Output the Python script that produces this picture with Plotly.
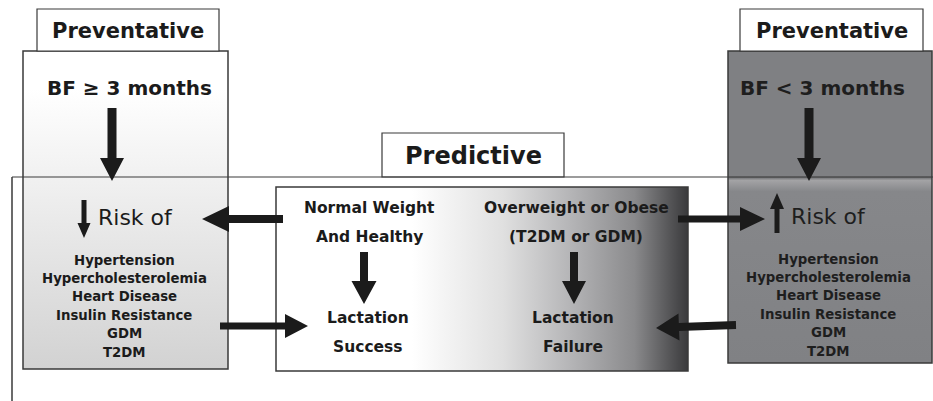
import math
import plotly.graph_objects as go

# ---------------- content ----------------
header_labels = ["Preventative", "Predictive", "Preventative"]
condition_labels = ["BF ≥ 3 months", "BF < 3 months"]
risk_label = "Risk of"
risk_items = ["Hypertension", "Hypercholesterolemia", "Heart Disease",
              "Insulin Resistance", "GDM", "T2DM"]
predictive_groups = [["Normal Weight", "And Healthy"],
                     ["Overweight or Obese", "(T2DM or GDM)"]]
outcome_groups = [["Lactation", "Success"], ["Lactation", "Failure"]]

# ---------------- layout geometry (pixels) ----------------
W, H = 933, 401
FONT = "DejaVu Sans, Liberation Sans, Arial"
INK = "#1b1b1b"
EDGE = "#3a3a3a"

LEFT_BOX = (23, 51, 228, 369)
RIGHT_BOX = (728, 51, 932, 363)
CENTER_BOX = (276, 187, 688, 371)
LABEL_BOXES = [(37, 9, 219, 51), (382, 133, 564, 177), (740, 9, 923, 51)]
LABEL_SIZES = [21, 24, 21]

fig = go.Figure()


def rect_xy(b):
    x0, y0, x1, y1 = b
    return [x0, x1, x1, x0, x0], [y0, y0, y1, y1, y0]


def grad_box(b, gtype, cscale, start, stop):
    xs, ys = rect_xy(b)
    fig.add_trace(go.Scatter(
        x=xs, y=ys, mode="lines", fill="toself",
        line=dict(width=0), hoverinfo="skip", showlegend=False,
        fillgradient=dict(type=gtype, colorscale=cscale, start=start, stop=stop),
    ))


# left box: white -> light grey (vertical)
grad_box(LEFT_BOX, "vertical",
         [[0, "#ffffff"], [0.12, "#ffffff"], [0.45, "#eeeeee"], [1, "#d2d2d2"]],
         LEFT_BOX[1], LEFT_BOX[3])
# right box: mid grey with a highlight band under the divider line
grad_box(RIGHT_BOX, "vertical",
         [[0, "#7f8083"], [0.40, "#7f8083"], [0.405, "#6f7073"], [0.415, "#a3a3a5"],
          [0.45, "#86878a"], [1, "#808184"]],
         RIGHT_BOX[1], RIGHT_BOX[3])
# centre box: white -> dark grey (horizontal)
grad_box(CENTER_BOX, "horizontal",
         [[0, "#ffffff"], [0.33, "#ffffff"], [0.55, "#e0e0e0"], [0.71, "#b6b6b8"],
          [0.87, "#8a8a8c"], [1, "#3a3a3c"]],
         CENTER_BOX[0], CENTER_BOX[2])

shapes = []
# box borders
for b in [LEFT_BOX, RIGHT_BOX, CENTER_BOX]:
    shapes.append(dict(type="rect", x0=b[0], y0=b[1], x1=b[2], y1=b[3],
                       line=dict(color=EDGE, width=1.5), fillcolor="rgba(0,0,0,0)"))
for b in LABEL_BOXES:
    shapes.append(dict(type="rect", x0=b[0], y0=b[1], x1=b[2], y1=b[3],
                       line=dict(color=EDGE, width=1.2), fillcolor="white"))
# divider line and left bracket
shapes.append(dict(type="line", x0=12, y0=177, x1=W, y1=177,
                   line=dict(color=EDGE, width=1.2)))
shapes.append(dict(type="line", x0=12, y0=177, x1=12, y1=H,
                   line=dict(color=EDGE, width=1.5)))


def arrow(x0, y0, x1, y1, sw, hw, hl):
    dx, dy = x1 - x0, y1 - y0
    L = math.hypot(dx, dy)
    ux, uy = dx / L, dy / L
    px, py = -uy, ux
    bx, by = x1 - ux * hl, y1 - uy * hl
    pts = [
        (x0 + px * sw / 2, y0 + py * sw / 2),
        (bx + px * sw / 2, by + py * sw / 2),
        (bx + px * hw / 2, by + py * hw / 2),
        (x1, y1),
        (bx - px * hw / 2, by - py * hw / 2),
        (bx - px * sw / 2, by - py * sw / 2),
        (x0 - px * sw / 2, y0 - py * sw / 2),
    ]
    path = "M " + " L ".join(f"{x:.1f},{y:.1f}" for x, y in pts) + " Z"
    shapes.append(dict(type="path", path=path, fillcolor=INK,
                       line=dict(width=0)))


# vertical arrows from the BF labels
arrow(112, 108, 112, 181, 9, 24, 23)
arrow(809, 108, 809, 181, 9, 24, 23)
# small risk arrows
arrow(84, 200, 84, 238, 5, 13, 15)
arrow(777, 233, 777, 193, 5, 14, 16)
# centre vertical arrows
arrow(364, 252, 364, 304, 8, 25, 23)
arrow(574, 252, 574, 304, 8, 24, 23)
# horizontal arrows
arrow(283, 219, 202, 219, 8, 26, 27)
arrow(220, 326, 308, 326, 7, 24, 23)
arrow(678, 219, 765, 219, 7, 24, 25)
arrow(736, 325, 656, 328, 8, 27, 23)

annotations = []


def txt(x, y, s, size, bold=True, color=INK, xanchor="center"):
    annotations.append(dict(
        x=x, y=y, xref="x", yref="y", text=f"<b>{s}</b>" if bold else s,
        showarrow=False, xanchor=xanchor, yanchor="middle",
        font=dict(family=FONT, size=size, color=color),
    ))


label_centers = [((b[0] + b[2]) / 2, (b[1] + b[3]) / 2 + 1) for b in LABEL_BOXES]
for (cx, cy), lab, sz in zip(label_centers, header_labels, LABEL_SIZES):
    txt(cx, cy, lab, sz)

txt(129, 88, condition_labels[0], 20)
txt(822, 88, condition_labels[1], 20, color="#1e1e1e")

txt(96, 217, risk_label, 22, bold=False, xanchor="left")
txt(789, 216, risk_label, 22, bold=False, color="#1e1e1e", xanchor="left")

risk_y0, risk_dy = 260, 18.4
for i, item in enumerate(risk_items):
    txt(124, risk_y0 + i * risk_dy, item, 13.3)
    txt(828, risk_y0 + i * risk_dy - 1, item, 13.3, color="#1e1e1e")

group_x = [369, 576]
for gx, lines in zip(group_x, predictive_groups):
    txt(gx, 208, lines[0], 15.5)
    txt(gx, 237, lines[1], 15.5)
outcome_x = [368, 573]
for ox, lines in zip(outcome_x, outcome_groups):
    txt(ox, 318, lines[0], 15.5)
    txt(ox, 347, lines[1], 15.5)

fig.update_layout(
    width=W, height=H,
    margin=dict(l=0, r=0, t=0, b=0),
    paper_bgcolor="white", plot_bgcolor="white",
    xaxis=dict(range=[0, W], visible=False, fixedrange=True),
    yaxis=dict(range=[H, 0], visible=False, fixedrange=True),
    shapes=shapes, annotations=annotations, showlegend=False,
)

fig.write_html(
    "out.html",
    config={"displayModeBar": False},
    post_script="document.body.style.margin='0';document.body.style.overflow='hidden';",
)
